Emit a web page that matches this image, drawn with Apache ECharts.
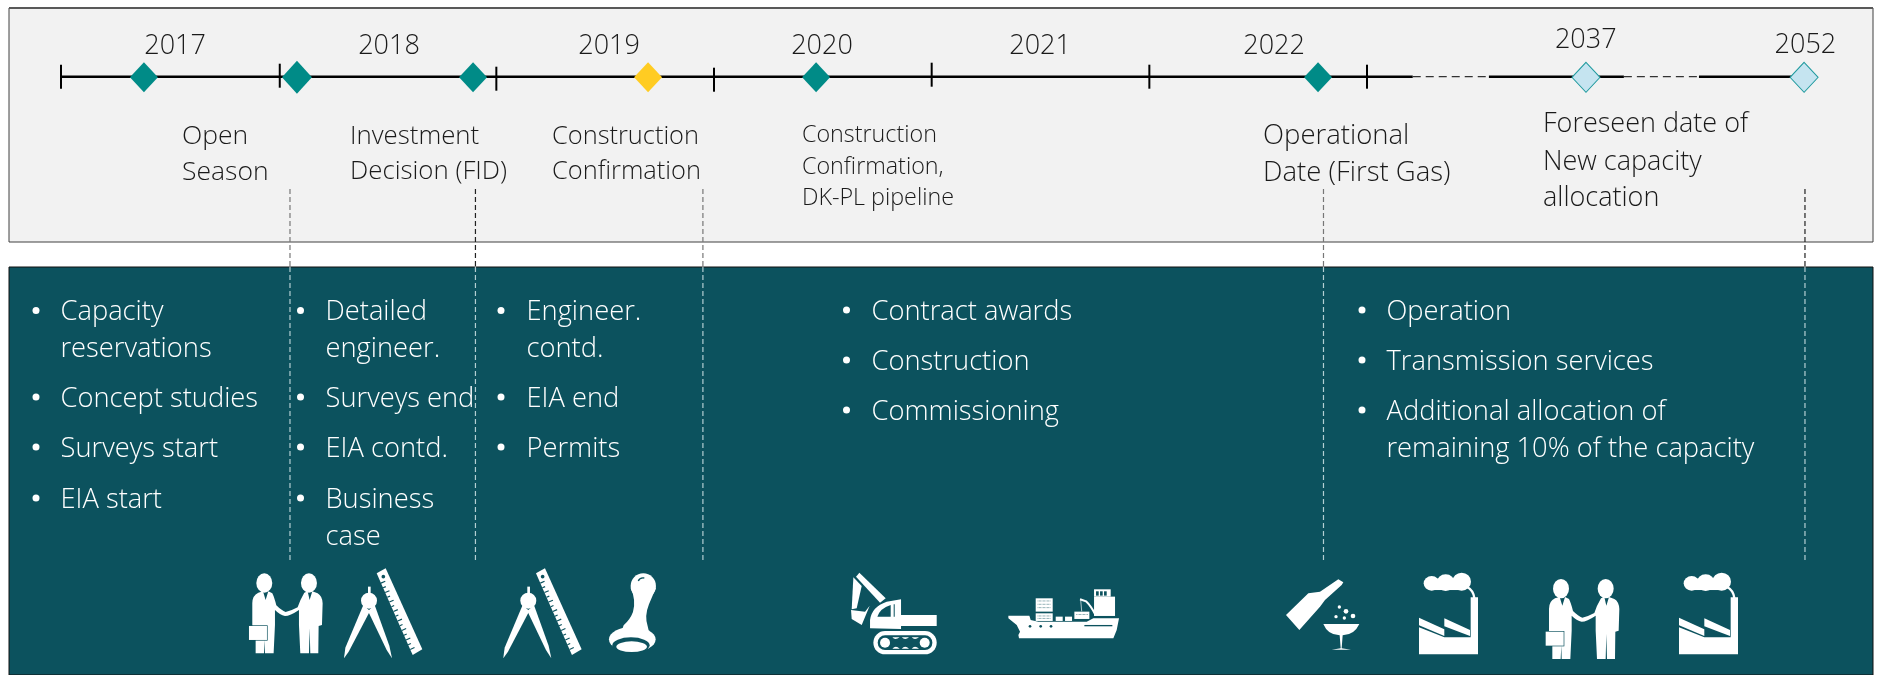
<!DOCTYPE html>
<html>
<head>
<meta charset="utf-8">
<title>Project timeline</title>
<script src="https://cdn.jsdelivr.net/npm/echarts@6/dist/echarts.min.js"></script>
<style>
html,body{margin:0;padding:0;background:#fff}
#timeline{width:1877px;height:675px}
</style>
</head>
<body>
<div id="timeline"></div>
<script>
// timeline positions: one unit is one period on the line, 2037 and 2052 sit at 7 and 8
const yearLabels = ['2017','2018','2019','2020','2021','2022','2037','2052']
const yearLabelAt = [0.524,1.507,2.518,3.496,4.498,5.573,7.005,8.014]
const periodTicks = [0,1.005,2,3,4,5,6]
const milestoneAt = [0.381,1.084,1.893,2.697,3.469,5.775,7.006,8.008]
const milestoneKind = ['done','done','done','next','done','done','future','future']
const solidSpans = [[0,6.21],[6.56,7.18],[7.525,8.008]]
const dashedSpans = [[6.21,6.56],[7.18,7.525]]
const phaseEnds = [1.052,1.904,2.949,5.80,8.012]

const captions = [
  ['Open','Season'],
  ['Investment','Decision (FID)'],
  ['Construction','Confirmation'],
  ['Construction','Confirmation,','DK-PL pipeline'],
  ['Operational','Date (First Gas)'],
  ['Foreseen date of','New capacity','allocation']
]
const phaseBullets = [
  [['Capacity','reservations'],['Concept studies'],['Surveys start'],['EIA start']],
  [['Detailed','engineer.'],['Surveys end'],['EIA contd.'],['Business','case']],
  [['Engineer.','contd.'],['EIA end'],['Permits']],
  [['Contract awards'],['Construction'],['Commissioning']],
  [['Operation'],['Transmission services'],['Additional allocation of','remaining 10% of the capacity']]
]

const FONT = '"Open Sans","Noto Sans",sans-serif'
const TEAL = '#0c525e'
const WHITE = '#ffffff'
const lineY = 76.7

// layout of the text blocks, in page pixels
const captionLayout = [
  {x:182,y:[136.5,172.5],size:26.5},
  {x:350,y:[137,172],size:25.8},
  {x:552,y:[137,172],size:25.4},
  {x:802,y:[135,167,198],size:23.3},
  {x:1263,y:[136,173],size:27.5},
  {x:1543,y:[124,162,198],size:27}
]
const bulletLayout = [
  {dot:36,x:60.5,y:[312.5,349,399,449,500]},
  {dot:300.5,x:325.5,y:[312.5,349,399,449,500,537]},
  {dot:501,x:526.5,y:[312.5,349,399,449]},
  {dot:846.5,x:871.5,y:[312,362,412]},
  {dot:1362,x:1386.5,y:[312,362,412,449]}
]
// small offsets of the hand placed ticks in the reference
const tickOffset = [0,-1,2,3,-2,0,0]

function circle(cx,cy,rx,ry){
  ry = ry || rx
  return 'M'+(cx-rx)+','+cy+' a'+rx+','+ry+' 0 1,0 '+(2*rx)+',0 a'+rx+','+ry+' 0 1,0 '+(-2*rx)+',0 Z '
}
function rect(x,y,w,h){
  return 'M'+x+','+y+' L'+(x+w)+','+y+' L'+(x+w)+','+(y+h)+' L'+x+','+(y+h)+' Z '
}
function rulerMarks(){
  let d = ''
  for(let i=0;i<15;i++){
    const t = 0.12+i*0.058
    const x = 98+108*t, y = 15+245*t
    const len = i%2 ? 9 : 14
    d += 'M'+x+','+y+' L'+(x+0.915*len)+','+(y-0.403*len)+' '
  }
  return d
}

// icons are drawn in a 3x space and scaled down when placed
const men = [
  {d:circle(48,29,24,29)+circle(182,29,24,29)+
    'M12,90 Q12,66 30,58 L44,54 L52,80 L60,54 L72,60 Q78,72 84,96 Q100,112 112,116 Q130,112 148,102 Q155,80 168,58 L178,54 L184,80 L192,54 L208,60 Q222,68 223,90 L221,155 L211,158 L210,240 L186,240 L184,165 L182,240 L156,240 L152,155 L152,110 Q125,128 110,128 Q95,125 80,110 L80,155 L76,240 L50,240 L49,200 L47,240 L22,240 L22,200 L12,155 Z',fill:WHITE},
  {d:rect(0,156,58,46),fill:TEAL},
  {d:rect(2,158,54,42),fill:WHITE}
]
const compass = [
  {d:'M98,15 L125,0 L235,243 L206,260 Z',fill:WHITE},
  {d:circle(118,25,5.5),fill:TEAL},
  {d:rulerMarks(),fill:'none',stroke:TEAL,width:3.5},
  {d:rect(72,55,8,30)+circle(75,97,24)+'M58,110 L78,128 L14,250 L0,270 L4,238 Z M92,110 L72,128 L128,245 L144,270 L136,232 Z',fill:WHITE}
]
const stamp = [
  {d:circle(105,40,38,38)+'M67,45 Q84,82 74,118 Q66,140 46,158 L40,175 L125,190 L118,160 Q108,130 122,95 L143,45 Z',fill:WHITE},
  {d:'M90,25 Q94,14 108,16',fill:'none',stroke:TEAL,width:4},
  {d:circle(72,200,70,38),fill:WHITE},
  {d:circle(68,218,56,24),fill:TEAL},
  {d:circle(70,222,46,16),fill:WHITE}
]
const excavator = [
  {d:'M16,12 L26,0 L105,77 L88,90 Z M8,14 L33,40 L18,107 L3,110 Z M1,112 L43,117 L57,99 L33,157 L3,139 Z',fill:WHITE},
  {d:'M58,167 L58,142 Q63,102 108,87 L151,80 L151,127 L258,127 L258,160 L151,160 L151,169 Z',fill:WHITE},
  {d:'M80,132 Q88,107 120,97 L120,132 Z',fill:TEAL},
  {d:rect(129,95,3,37),fill:TEAL},
  {d:'M103,175 L223,175 A35,35 0 0 1 223,245 L103,245 A35,35 0 0 1 103,175 Z',fill:WHITE},
  {d:'M103,188 L223,188 A22,22 0 0 1 223,232 L103,232 A22,22 0 0 1 103,188 Z',fill:TEAL},
  {d:circle(103,210,15)+circle(222,210,15)+'M125,194 Q133,204 147,194 Z M153,194 Q163,204 175,194 Z M183,194 Q192,204 205,194 Z M125,228 Q135,216 147,228 Z M153,228 Q163,216 175,228 Z M183,228 Q192,216 205,228 Z',fill:WHITE}
]
const ship = [
  {d:'M2,79 L65,79 L69,92 L92,97 L237,97 L257,87 L334,87 L327,122 L317,147 L34,147 L32,137 L37,127 L27,107 L2,87 Z',fill:WHITE},
  {d:rect(84,27,51,40)+rect(84,72,51,23)+rect(144,82,21,13)+rect(172,82,21,13)+rect(200,67,45,22)+rect(259,0,50,22)+rect(259,22,63,58),fill:WHITE},
  {d:'M217,30 L235,36 Q250,50 264,78',fill:'none',stroke:WHITE,width:6},
  {d:'M219,32 L222,66',fill:'none',stroke:WHITE,width:2},
  {d:rect(265,6,8,13)+rect(277,6,8,13)+rect(289,6,8,13)+circle(67,111,4)+circle(99,111,4)+circle(130,111,4)+rect(230,107,84,4),fill:TEAL},
  {d:'M90,35 L128,35 M90,45 L128,45 M90,55 L128,55 M90,80 L128,80 M90,87 L128,87 M206,76 L240,76',fill:'none',stroke:TEAL,width:2,dash:[2,2]}
]
const bottle = [
  {d:'M0,110 L67,45 L102,40 L157,3 L172,12 L167,20 L117,65 L102,85 L40,155 Z',fill:WHITE},
  {d:'M112,137 L220,137 Q205,170 170,171 L167,210 L195,214 L137,214 L164,210 L161,171 Q125,170 112,137 Z',fill:WHITE},
  {d:circle(160,86,5)+circle(180,99,7)+circle(150,115,5)+circle(201,113,7)+circle(175,119,5),fill:WHITE}
]
const factory = [
  {d:'M0,245 L0,164 L76,194 L155,194 L155,74 L177,74 L177,245 Z M0,135 L76,170 L76,190 L0,158 Z M76,137 L153,172 L153,190 L76,161 Z',fill:WHITE},
  {d:circle(38,32,24,22)+circle(80,30,27,25)+circle(128,27,28,27)+rect(36,22,92,30),fill:WHITE},
  {d:'M143,42 Q163,52 166,76',fill:'none',stroke:WHITE,width:7}
]
const iconPlacement = [
  {icon:men,x:248.3,y:573.3},
  {icon:compass,x:344,y:568.3},
  {icon:compass,x:503.3,y:568.3},
  {icon:stamp,x:608.3,y:572.7},
  {icon:excavator,x:850.7,y:572.7},
  {icon:ship,x:1007.7,y:589.3},
  {icon:bottle,x:1286,y:578.3},
  {icon:factory,x:1419,y:572.7},
  {icon:men,x:1545,y:579},
  {icon:factory,x:1679,y:572.7}
]

function textEl(text,x,y,size,fill){
  return {
    type:'text',z:6,silent:true,
    style:{text:text,x:x,y:y,fill:fill,fontFamily:FONT,fontWeight:300,fontSize:size,align:'left',verticalAlign:'middle'}
  }
}

function buildGraphics(){
  const els = [
    {type:'rect',z:0,silent:true,shape:{x:9,y:8,width:1864,height:234},style:{fill:'#f2f2f2',stroke:'#404040',lineWidth:1}},
    {type:'rect',z:0,silent:true,shape:{x:9,y:7,width:1864,height:2},style:{fill:'#595959'}},
    {type:'rect',z:0,silent:true,shape:{x:9,y:267,width:1864,height:408},style:{fill:TEAL,stroke:'#111',lineWidth:1}}
  ]
  captions.forEach(function(lines,i){
    const c = captionLayout[i]
    lines.forEach(function(line,k){
      els.push(textEl(line,c.x,c.y[k],c.size,'#1a1a1a'))
    })
  })
  phaseBullets.forEach(function(items,i){
    const c = bulletLayout[i]
    let row = 0
    items.forEach(function(lines){
      els.push({type:'circle',z:6,silent:true,shape:{cx:c.dot,cy:c.y[row]-2,r:3.5},style:{fill:WHITE}})
      lines.forEach(function(line){
        els.push(textEl(line,c.x,c.y[row],27.3,WHITE))
        row++
      })
    })
  })
  return els
}

function spanSeries(span,style){
  return {
    type:'line',silent:true,symbol:'none',animation:false,z:3,
    data:[[span[0],lineY],[span[1],lineY]],
    lineStyle:style
  }
}

const kindStyle = {
  done:{color:'#008b87',size:[28,30]},
  next:{color:'#ffcc22',size:[28,30]},
  future:{color:'#c5e4f0',size:[28,30],border:'#1f9a9e'}
}

const series = []
solidSpans.forEach(function(s){ series.push(spanSeries(s,{color:'#000',width:2.4})) })
dashedSpans.forEach(function(s){ series.push(spanSeries(s,{color:'#333',width:1.3,type:[8,5]})) })
phaseEnds.forEach(function(x,i){
  const dark = i===1 || i===4
  series.push({
    type:'line',silent:true,symbol:'none',animation:false,z:4,
    data:[[x,189],[x,267]],
    lineStyle:{color:dark?'#222':'#777',width:1.2,type:[5,3]}
  })
  series.push({
    type:'line',silent:true,symbol:'none',animation:false,z:4,
    data:[[x,267],[x,562]],
    lineStyle:{color:'#b4cfd3',width:1.2,type:[5,3]}
  })
})
series.push({
  type:'scatter',silent:true,animation:false,z:5,
  symbol:'rect',symbolSize:[2,24],
  itemStyle:{color:'#000',opacity:1},
  data:periodTicks.map(function(x,i){
    return {value:[x,lineY],symbolOffset:[0,tickOffset[i]]}
  })
})
series.push({
  type:'scatter',silent:true,animation:false,z:5,
  symbol:'diamond',
  data:milestoneAt.map(function(x,i){
    const k = kindStyle[milestoneKind[i]]
    return {
      value:[x,lineY+0.6],
      symbolSize:i===1?[30,33]:k.size,
      itemStyle:{color:k.color,borderColor:k.border||k.color,borderWidth:k.border?1:0,opacity:1}
    }
  })
})
series.push({
  type:'scatter',silent:true,animation:false,z:5,
  symbolSize:1,
  itemStyle:{color:'transparent',opacity:1},
  data:yearLabelAt.map(function(x,i){
    return {
      value:[x,i===6?40:(i===7?45:46.5)],
      label:{
        show:true,position:'inside',formatter:yearLabels[i],
        color:'#1a1a1a',fontFamily:FONT,fontWeight:300,fontSize:27
      }
    }
  })
})
// the icons along the bottom of the teal panel, every subpath filled on its own
series.push({
  type:'custom',silent:true,animation:false,z:6,
  coordinateSystem:'none',
  data:iconPlacement.map(function(p,i){ return i }),
  renderItem:function(params){
    const p = iconPlacement[params.dataIndex]
    const children = []
    p.icon.forEach(function(part){
      part.d.split(/(?=M)/).forEach(function(sub){
        children.push({
          type:'path',silent:true,
          shape:{pathData:sub},
          style:{fill:part.fill,stroke:part.stroke||null,lineWidth:part.width||0,lineDash:part.dash||null}
        })
      })
    })
    return {type:'group',x:p.x,y:p.y,scaleX:1/3,scaleY:1/3,silent:true,children:children}
  }
})

const chart = echarts.init(document.getElementById('timeline'),null,{renderer:'canvas'})
chart.setOption({
  animation:false,
  grid:{left:0,right:0,top:0,bottom:0},
  // the x axis runs along the line, the y axis is the page height
  xAxis:{type:'value',min:-61/217.67,max:(1877-61)/217.67,show:false},
  yAxis:{type:'value',min:0,max:675,inverse:true,show:false},
  graphic:{elements:buildGraphics()},
  series:series
})
window.addEventListener('resize',chart.resize)
</script>
</body>
</html>
